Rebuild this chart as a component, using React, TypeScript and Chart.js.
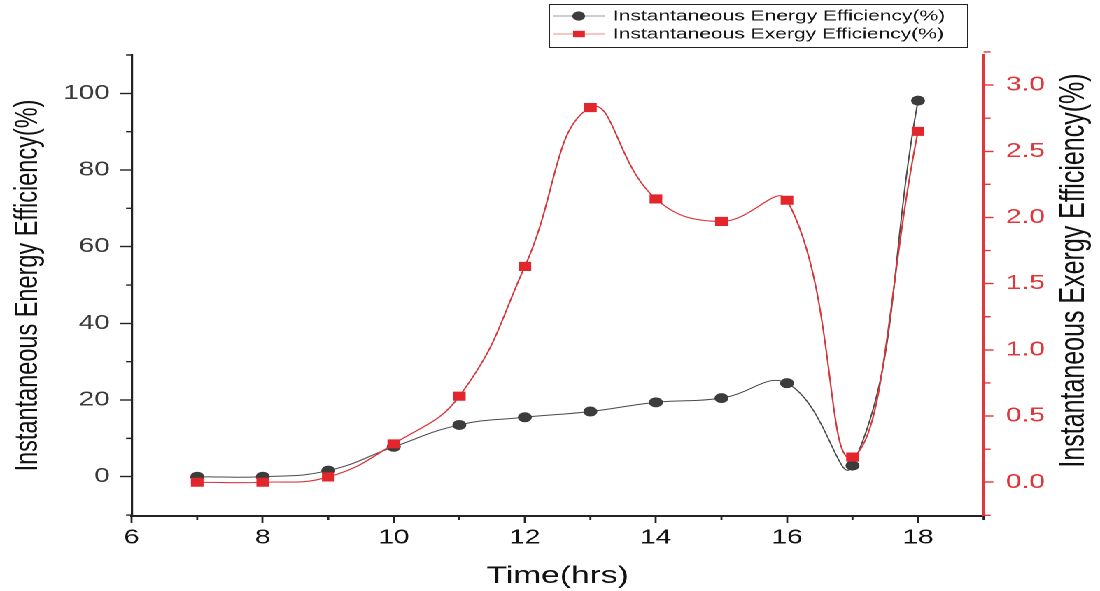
import React, { useEffect, useRef } from "react";
import { Chart, registerables } from "chart.js";

Chart.register(...registerables);

// ---- data ----
const hours = [7, 8, 9, 10, 11, 12, 13, 14, 15, 16, 17, 18];
const energyEff = [0, 0, 1.6, 7.8, 13.5, 15.5, 17.0, 19.4, 20.5, 24.4, 2.9, 98.1];
const exergyEff = [0, 0, 0.04, 0.29, 0.65, 1.63, 2.83, 2.14, 1.97, 2.13, 0.19, 2.65];

const xTicks = [6, 8, 10, 12, 14, 16, 18];
const xMinorTicks = [7, 9, 11, 13, 15, 17, 19];
const leftTicks = [0, 20, 40, 60, 80, 100];
const leftMinorTicks = [-10, 10, 30, 50, 70, 90, 110];
const rightTicks = [0, 0.5, 1.0, 1.5, 2.0, 2.5, 3.0];
const rightMinorTicks = [-0.25, 0.25, 0.75, 1.25, 1.75, 2.25, 2.75, 3.25];

const energyLabel = "Instantaneous Energy Efficiency(%)";
const exergyLabel = "Instantaneous Exergy Efficiency(%)";
const xTitle = "Time(hrs)";
const leftTitle = "Instantaneous Energy Efficiency(%)";
const rightTitle = "Instantaneous Exergy Efficiency(%)";

// ---- layout (unstretched canvas coordinates) ----
const W = 786;
const H = 591;
const STRETCH = 1100 / W;
const FONT = "'Liberation Sans', Arial, Helvetica, sans-serif";
const RED = "#e3262b";
const RED_AXIS = "#e0373b";
const DARK = "#232323";
const TENSION = 0.45;

const minorTicksPlugin = {
  id: "minorTicks",
  afterDraw(chart: any) {
    const ctx = chart.ctx;
    const { x, y, y1 } = chart.scales;
    ctx.save();
    ctx.lineWidth = 1.4;
    ctx.strokeStyle = DARK;
    ctx.beginPath();
    xMinorTicks.forEach((v) => {
      const px = x.getPixelForValue(v);
      ctx.moveTo(px, x.top);
      ctx.lineTo(px, x.top + 4);
    });
    leftMinorTicks.forEach((v) => {
      const py = y.getPixelForValue(v);
      ctx.moveTo(y.right, py);
      ctx.lineTo(y.right - 4, py);
    });
    ctx.stroke();
    ctx.strokeStyle = RED_AXIS;
    ctx.beginPath();
    rightMinorTicks.forEach((v) => {
      const py = y1.getPixelForValue(v);
      ctx.moveTo(y1.left, py);
      ctx.lineTo(y1.left + 5, py);
    });
    ctx.stroke();
    ctx.restore();
  },
};

const rightTitlePlugin = {
  id: "rightTitle",
  afterDraw(chart: any) {
    const ctx = chart.ctx;
    const s = chart.scales.y1;
    ctx.save();
    ctx.translate(s.right - 18.6, (chart.chartArea.top + chart.chartArea.bottom) / 2 - 15);
    ctx.rotate(-Math.PI / 2);
    ctx.textAlign = "center";
    ctx.textBaseline = "middle";
    ctx.fillStyle = "#111";
    ctx.font = `25px ${FONT}`;
    ctx.fillText(rightTitle, 0, 0);
    ctx.restore();
  },
};

const boxLegendPlugin = {
  id: "boxLegend",
  afterDraw(chart: any) {
    const ctx = chart.ctx;
    const left = 392.5;
    const top = 4.5;
    const right = 691.5;
    const bottom = 47.5;
    const rows = [16, 34];
    ctx.save();
    ctx.lineWidth = 1;
    ctx.strokeStyle = "#222";
    ctx.strokeRect(left, top, right - left, bottom - top);
    chart.data.datasets.forEach((ds: any, i: number) => {
      const yy = rows[i];
      ctx.strokeStyle = ds.legendLineColor;
      ctx.lineWidth = 1;
      ctx.beginPath();
      ctx.moveTo(395, yy);
      ctx.lineTo(432, yy);
      ctx.stroke();
      ctx.fillStyle = ds.pointBackgroundColor;
      if (ds.pointStyle === "circle") {
        ctx.beginPath();
        ctx.arc(413.5, yy, 4.6, 0, Math.PI * 2);
        ctx.fill();
      } else {
        ctx.fillRect(409.5, yy - 3.2, 8.4, 6.4);
      }
      ctx.fillStyle = "#151515";
      ctx.font = `15px ${FONT}`;
      ctx.textAlign = "left";
      ctx.textBaseline = "middle";
      ctx.fillText(ds.label, 438, yy + 0.5);
    });
    ctx.restore();
  },
};

export default function App() {
  const canvasRef = useRef<HTMLCanvasElement | null>(null);

  useEffect(() => {
    if (!canvasRef.current) return;
    Chart.defaults.font.family = FONT;
    const chart = new Chart(canvasRef.current, {
      type: "line",
      data: {
        datasets: [
          {
            label: energyLabel,
            data: hours.map((h, i) => ({ x: h, y: energyEff[i] })),
            yAxisID: "y",
            borderColor: "#4a4a4a",
            borderWidth: 1,
            pointStyle: "circle",
            pointRadius: 5,
            pointBackgroundColor: "#3c3c3c",
            pointBorderColor: "#3c3c3c",
            pointBorderWidth: 0,
            tension: TENSION,
            order: 2,
            legendLineColor: "#9a9a9a",
          } as any,
          {
            label: exergyLabel,
            data: hours.map((h, i) => ({ x: h, y: exergyEff[i] })),
            yAxisID: "y1",
            borderColor: "#d8363a",
            borderWidth: 1.1,
            pointStyle: "rect",
            pointRadius: 6.4,
            pointBackgroundColor: RED,
            pointBorderColor: RED,
            pointBorderWidth: 0,
            tension: TENSION,
            order: 1,
            legendLineColor: "#f08a8a",
          } as any,
        ],
      },
      options: {
        animation: false,
        responsive: true,
        maintainAspectRatio: false,
        devicePixelRatio: 2,
        layout: { padding: { top: 55, left: 0, right: 0, bottom: 0 } },
        plugins: {
          legend: { display: false },
          tooltip: { enabled: false },
        },
        scales: {
          x: {
            type: "linear",
            position: "bottom",
            min: 6,
            max: 19,
            afterBuildTicks: (s: any) => {
              s.ticks = xTicks.map((v) => ({ value: v }));
            },
            afterFit: (s: any) => {
              s.height = 75;
            },
            grid: { drawOnChartArea: false, tickLength: 7, tickWidth: 1.4, tickColor: DARK },
            border: { color: DARK, width: 2 },
            ticks: {
              color: "#111",
              font: { size: 20 },
              padding: 3,
              maxRotation: 0,
              autoSkip: false,
            },
            title: {
              display: true,
              text: xTitle,
              color: "#111",
              font: { size: 24 },
              padding: { top: 0, bottom: 0 },
            },
          },
          y: {
            type: "linear",
            position: "left",
            min: -10.25,
            max: 110,
            afterBuildTicks: (s: any) => {
              s.ticks = leftTicks.map((v) => ({ value: v }));
            },
            afterFit: (s: any) => {
              s.width = 94.1;
            },
            grid: { drawOnChartArea: false, tickLength: 8.6, tickWidth: 1.4, tickColor: DARK },
            border: { color: DARK, width: 1.6 },
            ticks: { color: "#3a3a3a", font: { size: 20 }, padding: 7 },
            title: {
              display: true,
              text: leftTitle,
              color: "#111",
              font: { size: 23.5 },
              padding: { top: 6, bottom: 0 },
            },
          },
          y1: {
            type: "linear",
            position: "right",
            min: -0.255,
            max: 3.227,
            afterBuildTicks: (s: any) => {
              s.ticks = rightTicks.map((v) => ({ value: v }));
            },
            afterFit: (s: any) => {
              s.width = W - 702.8;
            },
            grid: { drawOnChartArea: false, tickLength: 7, tickWidth: 1.4, tickColor: RED_AXIS },
            border: { color: RED_AXIS, width: 1.6 },
            ticks: {
              color: RED_AXIS,
              font: { size: 20 },
              padding: 9,
              callback: (v: any) => Number(v).toFixed(1),
            },
            title: { display: false },
          },
        },
      },
      plugins: [minorTicksPlugin, rightTitlePlugin, boxLegendPlugin],
    });
    return () => chart.destroy();
  }, []);

  return (
    <div
      style={{
        position: "fixed",
        left: 0,
        top: 0,
        width: W,
        height: H,
        transform: `scaleX(${STRETCH})`,
        transformOrigin: "0 0",
        background: "#fff",
      }}
    >
      <canvas ref={canvasRef} style={{ display: "block" }} />
    </div>
  );
}
